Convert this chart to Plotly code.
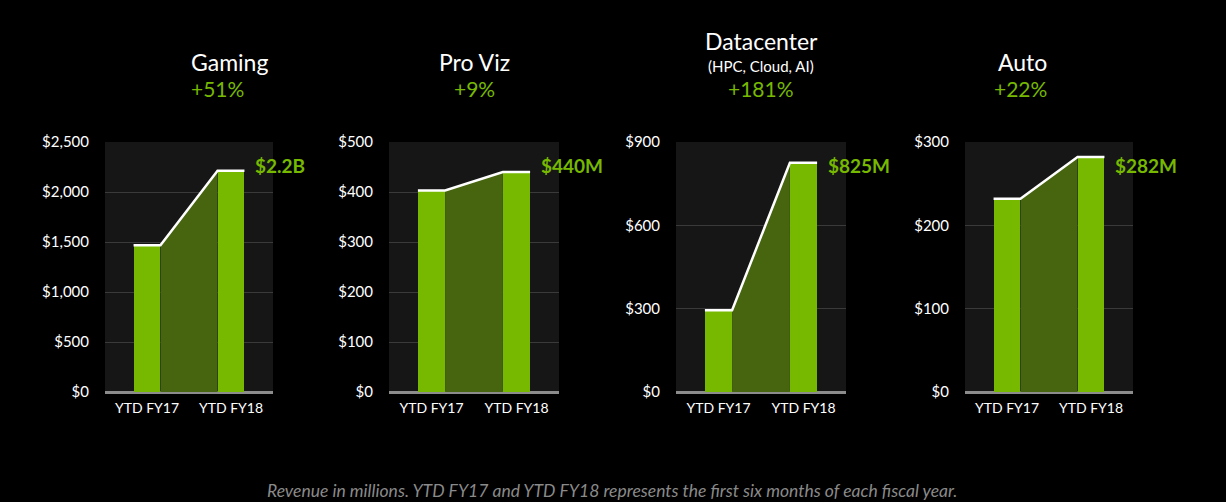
import plotly.graph_objects as go

categories = ["YTD FY17", "YTD FY18"]
segments = ["Gaming", "Pro Viz", "Datacenter", "Auto"]
subtitles = ["", "", "(HPC, Cloud, AI)", ""]
growth = ["+51%", "+9%", "+181%", "+22%"]
fy17_values = [1468, 403, 294, 232]
fy18_values = [2213, 440, 825, 282]
value_labels = ["$2.2B", "$440M", "$825M", "$282M"]
y_max = [2500, 500, 900, 300]
y_step = [500, 100, 300, 100]
footnote = "Revenue in millions. YTD FY17 and YTD FY18 represents the first six months of each fiscal year."

W, H = 1226, 502
GREEN = "#76b900"
DARK_GREEN = "#46650e"
FONT = "Lato, 'Open Sans', sans-serif"
BAR_W = 0.32

x_dom_px = [(105, 273), (389, 559), (676, 846), (965, 1133)]
y_dom = [1 - 392 / H, 1 - 142 / H]

fig = go.Figure()
annotations = []


def note(text, x, y_px, size, color, xref="paper", **kw):
    d = dict(text=text, x=x, y=1 - y_px / H, xref=xref, yref="paper", yanchor="middle",
             showarrow=False, font=dict(color=color, size=size, family=FONT))
    d.update(kw)
    annotations.append(d)


for i, seg in enumerate(segments):
    xa = "x" if i == 0 else f"x{i+1}"
    ya = "y" if i == 0 else f"y{i+1}"
    v0, v1 = fy17_values[i], fy18_values[i]
    # dark green area between bars
    fig.add_trace(go.Scatter(
        x=[BAR_W / 2, 1 - BAR_W / 2], y=[v0, v1], mode="lines",
        line=dict(width=0, color=DARK_GREEN), fill="tozeroy", fillcolor=DARK_GREEN,
        xaxis=xa, yaxis=ya, showlegend=False, hoverinfo="skip"))
    fig.add_trace(go.Bar(
        x=[0, 1], y=[v0, v1], width=BAR_W, marker=dict(color=GREEN, line=dict(width=0)),
        xaxis=xa, yaxis=ya, showlegend=False))
    fig.add_trace(go.Scatter(
        x=[-BAR_W / 2, BAR_W / 2, 1 - BAR_W / 2, 1 + BAR_W / 2], y=[v0, v0, v1, v1],
        mode="lines", line=dict(color="white", width=2.5),
        xaxis=xa, yaxis=ya, showlegend=False, hoverinfo="skip"))

    d0, d1 = x_dom_px[i]
    axis_x = dict(domain=[d0 / W, d1 / W], range=[-0.5, 1.5], tickvals=[0, 1], ticktext=categories,
                  showgrid=False, zeroline=False, showline=False, fixedrange=True, automargin=False,
                  tickfont=dict(color="white", size=14, family=FONT), ticklabelstandoff=6,
                  anchor=ya)
    axis_y = dict(domain=y_dom, range=[0, y_max[i]], dtick=y_step[i], tickprefix="$", tickformat=",d",
                  showgrid=True, gridcolor="#3a3a3a", gridwidth=1, automargin=False, fixedrange=True,
                  zeroline=True, zerolinecolor="#8c8c8c", zerolinewidth=3, showline=False,
                  tickfont=dict(color="white", size=15, family=FONT), ticklabelstandoff=15,
                  anchor=xa)
    key = "" if i == 0 else str(i + 1)
    fig.update_layout(**{f"xaxis{key}": axis_x, f"yaxis{key}": axis_y})

    cx = (d0 + d1) / 2 / W
    if subtitles[i]:
        note(seg, cx, 41, 23, "white")
        note(subtitles[i], cx, 66, 15, "white")
    else:
        note(seg, cx, 62, 23, "white")
    note(growth[i], cx, 88, 21, GREEN)
    note("<b>" + value_labels[i] + "</b>", 1 + BAR_W / 2, 166, 19, GREEN, xref=xa,
         xanchor="left", xshift=9)

note("<i>" + footnote + "</i>", 0.5 * (268 + 955) / W, 490, 17.5, "#8a8a8a")

fig.update_layout(
    width=W, height=H, margin=dict(l=0, r=0, t=0, b=0),
    paper_bgcolor="black", plot_bgcolor="#161616",
    bargap=0, annotations=annotations, showlegend=False,
)

fig.write_html("out.html", config={"displayModeBar": False},
               post_script="document.body.style.margin='0';document.body.style.background='black';")
